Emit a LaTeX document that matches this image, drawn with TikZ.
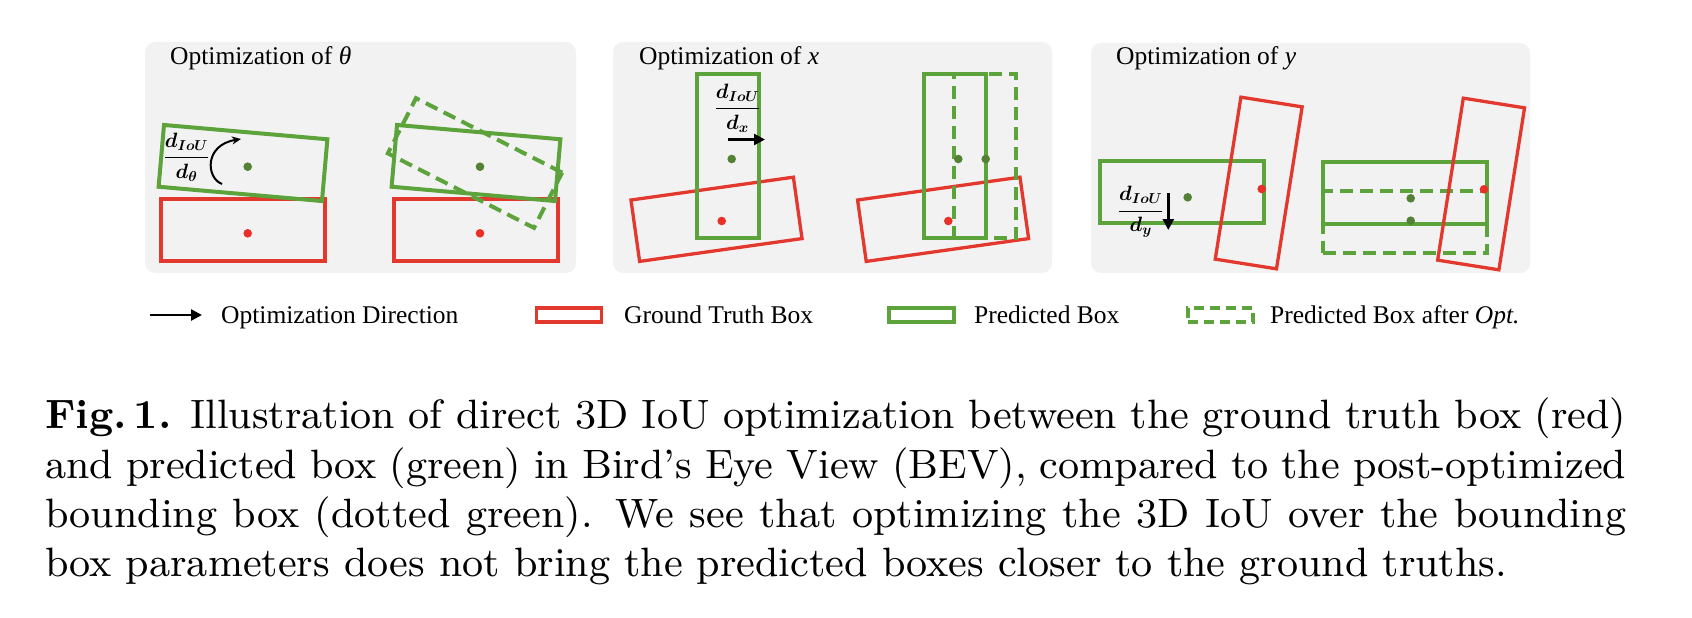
\documentclass[tikz,border=0pt]{standalone}
\usepackage{fontspec}
\usepackage{amsmath}
\usetikzlibrary{arrows.meta}

\newfontfamily\timesfam{Liberation Serif}
\newfontfamily\capfam{lmroman9-regular.otf}[BoldFont=lmroman9-bold.otf,Ligatures=TeX]
\newcommand\ttlfont{\timesfam\fontsize{25.5}{30}\selectfont}
\newcommand\gradfont{\fontsize{22}{26}\selectfont\boldmath}
\newcommand\capfont{\capfam\fontsize{41}{50}\selectfont}

\definecolor{panelgray}{RGB}{242,242,242}
\definecolor{gtred}{RGB}{226,56,46}
\definecolor{predgreen}{RGB}{92,163,60}
\definecolor{dotgreen}{RGB}{84,130,53}
\definecolor{dotred}{RGB}{232,48,40}

\tikzset{
  panel/.style={fill=panelgray,rounded corners=10pt},
  gtbox/.style={draw=gtred,line width=3.3pt,inner sep=0pt,outer sep=0pt},
  predbox/.style={draw=predgreen,line width=4pt,inner sep=0pt,outer sep=0pt},
  optbox/.style={predbox,dash pattern=on 13pt off 7pt},
  wide/.style={minimum width=164pt,minimum height=62pt},
  tall/.style={minimum width=62pt,minimum height=164pt},
  centre/.style={circle,inner sep=0pt,minimum size=8.6pt},
  gtdot/.style={centre,fill=dotred},
  preddot/.style={centre,fill=dotgreen},
  title/.style={font=\ttlfont,anchor=base west,inner sep=0pt},
  grad/.style={font=\gradfont,inner sep=0pt},
  dir/.style={line width=2.6pt,-{Triangle[length=11pt,width=11pt]}},
  capline/.style={font=\capfont,anchor=base west,inner sep=0pt},
}

\begin{document}
\begin{tikzpicture}[x=1pt,y=-1pt]
  \useasboundingbox (0,0) rectangle (1692,618);

  % panels
  \fill[panel] (145,42) rectangle (576,273);
  \fill[panel] (613,42) rectangle (1052,273);
  \fill[panel] (1091,43) rectangle (1530,273);

  % optimization of theta
  \node[title] (t1) at (170,65) {Optimization of \textit{θ}};
  \node[gtbox,wide] (gt1a) at (243,230) {};
  \node[predbox,wide,rotate=-5] (pr1a) at (243,163) {};
  \node[gtdot] (gd1a) at (247.7,233.3) {};
  \node[preddot] (pd1a) at (247.7,166.7) {};
  \node[grad] (g1) at (186.5,157) {$\dfrac{d_{IoU}}{d_{\theta}}$};
  \coordinate (r1s) at (222,184);
  \coordinate (r1e) at (241,139);
  \draw[line width=2pt,-{Stealth[length=9pt,width=8pt]}] (r1s) .. controls (206,178) and (204,145) .. (r1e);

  \node[gtbox,wide] (gt1b) at (476,230) {};
  \node[predbox,wide,rotate=-5] (pr1b) at (476,163) {};
  \node[optbox,wide,rotate=-27] (op1b) at (475,163) {};
  \node[gtdot] (gd1b) at (480,233.3) {};
  \node[preddot] (pd1b) at (480,166.7) {};

  % optimization of x
  \node[title] (t2) at (639,65) {Optimization of \textit{x}};
  \node[gtbox,wide,rotate=8] (gt2a) at (716.5,219.3) {};
  \node[predbox,tall] (pr2a) at (728.3,156.2) {};
  \node[gtdot] (gd2a) at (721.7,221) {};
  \node[preddot] (pd2a) at (731.7,159) {};
  \node[grad] (g2) at (737.5,108) {$\dfrac{d_{IoU}}{d_{x}}$};
  \coordinate (xs) at (728,139.5);
  \coordinate (xe) at (765,139.5);
  \draw[dir] (xs) -- (xe);

  \node[gtbox,wide,rotate=8] (gt2b) at (943.1,219.3) {};
  \node[predbox,tall] (pr2b) at (954.7,156.2) {};
  \node[optbox,tall] (op2b) at (985,156.2) {};
  \node[gtdot] (gd2b) at (948.3,221) {};
  \node[preddot] (pd2b) at (958.3,159) {};
  \node[preddot] (pd2c) at (985.7,159) {};

  % optimization of y
  \node[title] (t3) at (1116,65) {Optimization of \textit{y}};
  \node[predbox,wide] (pr3a) at (1182,192.2) {};
  \node[gtbox,tall,rotate=-9] (gt3a) at (1258.7,183) {};
  \node[gtdot] (gd3a) at (1261.7,189) {};
  \node[preddot] (pd3a) at (1187.7,197.3) {};
  \node[grad] (g3) at (1140.8,212) {$\dfrac{d_{IoU}}{d_{y}}$};
  \coordinate (ys) at (1168.3,193);
  \coordinate (ye) at (1168.3,230);
  \draw[dir] (ys) -- (ye);

  \node[predbox,wide] (pr3b) at (1404.7,193) {};
  \node[optbox,wide] (op3b) at (1404.7,221.7) {};
  \node[gtbox,tall,rotate=-9] (gt3b) at (1481.1,184) {};
  \node[gtdot] (gd3b) at (1484,189.3) {};
  \node[preddot] (pd3b) at (1410.7,198.3) {};
  \node[preddot] (pd3c) at (1410.7,220.7) {};

  % legend
  \coordinate (ls) at (150,315);
  \coordinate (le) at (202,315);
  \draw[dir] (ls) -- (le);
  \node[title] (l1) at (221,323) {Optimization Direction};
  \node[gtbox,minimum width=65pt,minimum height=14pt] (lgt) at (569,315) {};
  \node[title] (l2) at (624,323) {Ground Truth Box};
  \node[predbox,minimum width=65pt,minimum height=14pt] (lpr) at (921,315) {};
  \node[title] (l3) at (974,323) {Predicted Box};
  \node[predbox,dash pattern=on 10pt off 6pt,minimum width=65pt,minimum height=14pt] (lop) at (1220,315) {};
  \node[title] (l4) at (1270,323) {Predicted Box after \textit{Opt.}};

  % caption
  \node[capline] (c1) at (45,428) {\makebox[1581pt][s]{\textbf{Fig.\,1.} Illustration of direct 3D IoU optimization between the ground truth box (red)}};
  \node[capline] (c2) at (45,478) {\makebox[1581pt][s]{and predicted box (green) in Bird’s Eye View (BEV), compared to the post-optimized}};
  \node[capline] (c3) at (45,527.5) {\makebox[1581pt][s]{bounding box (dotted green). We see that optimizing the 3D IoU over the bounding}};
  \node[capline] (c4) at (45,576.7) {box parameters does not bring the predicted boxes closer to the ground truths.};
\end{tikzpicture}
\end{document}
